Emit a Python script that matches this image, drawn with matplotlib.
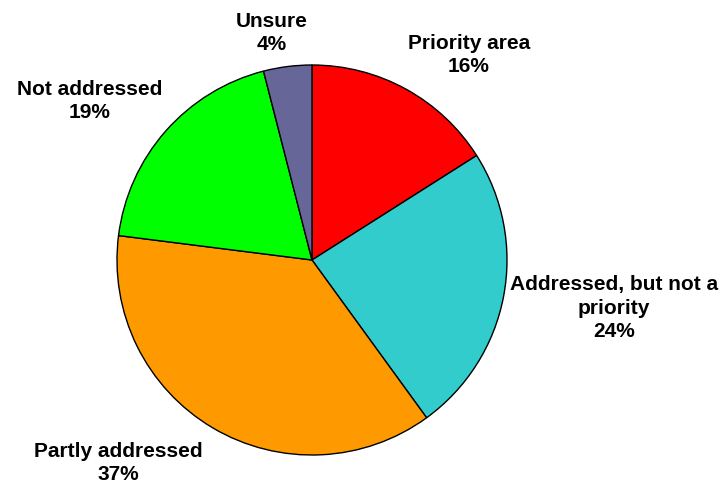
import matplotlib
matplotlib.use('Agg')
import matplotlib.pyplot as plt

# Responses, clockwise from 12 o'clock
categories = ['Priority area', 'Addressed, but not a\npriority', 'Partly addressed',
              'Not addressed', 'Unsure']
shares = [16, 24, 37, 19, 4]
colors = ['#FF0000', '#33CCCC', '#FF9900', '#00FF00', '#666699']

# label centres in pixels (x, y from top)
label_px = [(469, 55), (614, 308), (118, 463), (90, 101), (272, 33)]

W, H = 723, 484
cx, cy, r = 312, 260, 195

fig = plt.figure(figsize=(W / 100, H / 100), dpi=100)
ax = fig.add_axes([(cx - r) / W, (H - cy - r) / H, 2 * r / W, 2 * r / H])
ax.pie(shares, colors=colors, startangle=90, counterclock=False, radius=1,
       wedgeprops=dict(edgecolor='black', linewidth=1.0))
ax.set_xlim(-1, 1)
ax.set_ylim(-1, 1)
ax.set_aspect('auto')
ax.axis('off')

for name, val, (px, py) in zip(categories, shares, label_px):
    fig.text(px / W, 1 - py / H, f'{name}\n{val}%', ha='center', va='center',
             fontsize=15, fontweight='bold', family=['Liberation Sans', 'DejaVu Sans'],
             linespacing=1.3)

fig.savefig('out.png', dpi=100)
